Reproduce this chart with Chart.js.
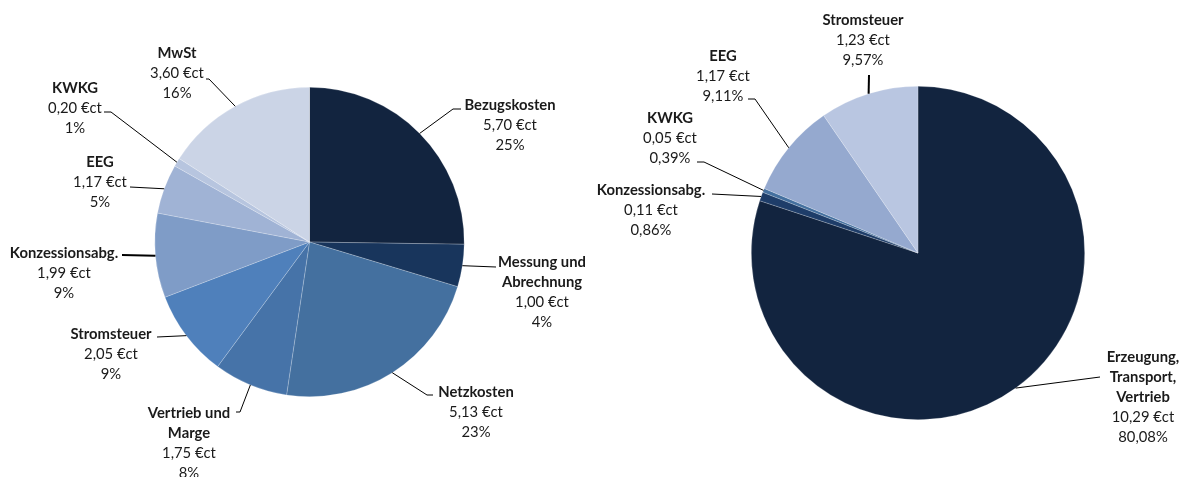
<!DOCTYPE html>
<html>
<head>
<meta charset="utf-8">
<script src="https://cdn.jsdelivr.net/npm/chart.js@4/dist/chart.umd.min.js"></script>
<style>
  html, body { margin: 0; padding: 0; background: #ffffff; }
  #wrap { position: relative; width: 1182px; height: 477px; overflow: hidden; }
  #c1 { position: absolute; left: 0; top: 0; }
  #c2 { position: absolute; left: 560px; top: 0; }
</style>
</head>
<body>
<div id="wrap">
  <canvas id="c1" width="600" height="477"></canvas>
  <canvas id="c2" width="622" height="477"></canvas>
</div>
<script>
// ---- Data: left pie ----
const leftCategories = [
  ['Bezugskosten'],
  ['Messung und', 'Abrechnung'],
  ['Netzkosten'],
  ['Vertrieb und', 'Marge'],
  ['Stromsteuer'],
  ['Konzessionsabg.'],
  ['EEG'],
  ['KWKG'],
  ['MwSt']
];
const leftValues = [5.70, 1.00, 5.13, 1.75, 2.05, 1.99, 1.17, 0.20, 3.60];
const leftPctDecimals = 0;

// ---- Data: right pie ----
const rightCategories = [
  ['Erzeugung,', 'Transport,', 'Vertrieb'],
  ['Konzessionsabg.'],
  ['KWKG'],
  ['EEG'],
  ['Stromsteuer']
];
const rightValues = [10.29, 0.11, 0.05, 1.17, 1.23];
const rightPctDecimals = 2;

// ---- Styles ----
const leftColors = ['#12243f', '#18355c', '#44709f', '#4673a8', '#4f80bb', '#7f9cc7', '#a0b3d5', '#b7c5df', '#cbd4e6'];
const rightColors = ['#12243f', '#1e3d69', '#44709f', '#95a9cf', '#b9c6e1'];

// label layout: text anchor [dx, dy] relative to pie centre, leader points relative to pie centre
const leftLayout = [
  { text: [200.5, -137], line: [[143.5, -133], [151.5, -133]] },
  { text: [232.5, 20],   line: [[186.5, 25]] },
  { text: [166.5, 150],  line: [[117.5, 153], [123.5, 153]] },
  { text: [-120.5, 171], line: [[-69.5, 170], [-73.5, 170]] },
  { text: [-198.5, 92],  line: [[-152.5, 95]] },
  { text: [-245.5, 11],  line: [[-187.5, 13]], width: 2 },
  { text: [-209.5, -80], line: [[-179.5, -55]] },
  { text: [-234.5, -154],line: [[-198.5, -130], [-205.5, -130]] },
  { text: [-132.5, -189],line: [[-100.5, -163], [-103.5, -163]] }
];
const rightLayout = [
  { text: [225, 104],   line: [[182, 124]] },
  { text: [-267, -63],  line: [[-206, -59]] },
  { text: [-248, -135], line: [[-214, -91], [-221, -91]] },
  { text: [-195, -197], line: [[-163, -154], [-170, -154]] },
  { text: [-55, -233],  line: [[-49, -178]], width: 2 }
];

const FONT = 'Lato, "Liberation Sans", sans-serif';
const LINE_H = 20;

function fmtNum(v, d) { return v.toFixed(d).replace('.', ','); }

function makeLabelPlugin(categories, values, layout, pctDec) {
  const total = values.reduce((a, b) => a + b, 0);
  return {
    id: 'pieLabels',
    afterDraw(chart) {
      const ctx = chart.ctx;
      const meta = chart.getDatasetMeta(0);
      ctx.save();
      meta.data.forEach((arc, i) => {
        const p = arc.getProps(['x', 'y', 'startAngle', 'endAngle', 'outerRadius'], true);
        const mid = (p.startAngle + p.endAngle) / 2;
        const ax = p.x + p.outerRadius * Math.cos(mid);
        const ay = p.y + p.outerRadius * Math.sin(mid);
        const L = layout[i];
        ctx.beginPath();
        ctx.strokeStyle = '#000000';
        ctx.lineWidth = L.width || 1;
        ctx.moveTo(ax, ay);
        L.line.forEach(pt => ctx.lineTo(p.x + pt[0], p.y + pt[1]));
        ctx.stroke();
        const tx = p.x + L.text[0];
        let ty = p.y + L.text[1];
        ctx.fillStyle = '#1a1a1a';
        ctx.textAlign = 'center';
        ctx.textBaseline = 'middle';
        ctx.font = 'bold 14.8px ' + FONT;
        categories[i].forEach(line => { ctx.fillText(line, tx, ty); ty += LINE_H; });
        ctx.font = '14.8px ' + FONT;
        ctx.fillText(fmtNum(values[i], 2) + ' €ct', tx, ty); ty += LINE_H;
        ctx.fillText(fmtNum(values[i] / total * 100, pctDec) + '%', tx, ty);
      });
      ctx.restore();
    }
  };
}

function makePie(id, categories, values, colors, layout, padding, pctDec) {
  return new Chart(document.getElementById(id), {
    type: 'pie',
    data: {
      labels: categories.map(c => c.join(' ')),
      datasets: [{
        data: values,
        backgroundColor: colors,
        borderColor: 'rgba(255,255,255,0.35)',
        borderWidth: 0.6
      }]
    },
    options: {
      responsive: false,
      animation: false,
      layout: { padding: padding },
      plugins: { legend: { display: false }, tooltip: { enabled: false } }
    },
    plugins: [makeLabelPlugin(categories, values, layout, pctDec)]
  });
}

makePie('c1', leftCategories, leftValues, leftColors, leftLayout,
  { left: 154.5, right: 135.5, top: 87, bottom: 80 }, leftPctDecimals);
makePie('c2', rightCategories, rightValues, rightColors, rightLayout,
  { left: 191, right: 97, top: 86, bottom: 57 }, rightPctDecimals);
</script>
</body>
</html>
